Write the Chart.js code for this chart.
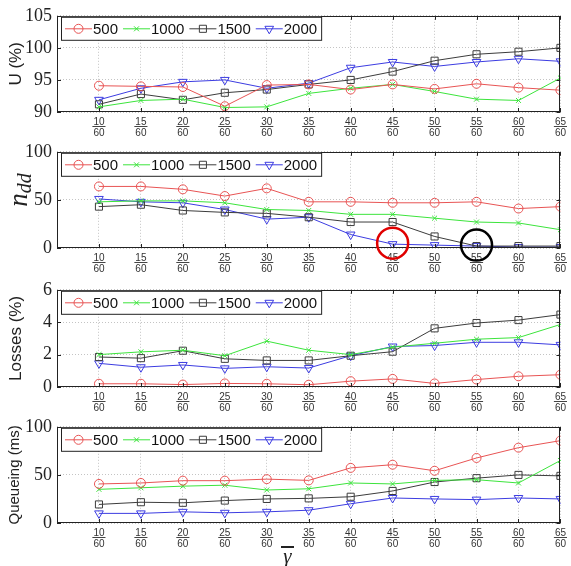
<!DOCTYPE html>
<html>
<head>
<meta charset="utf-8">
<script src="https://cdn.jsdelivr.net/npm/chart.js@4.4.1/dist/chart.umd.min.js"></script>
<style>
    body { margin: 0; background: #fff; }
    #wrap { position: relative; width: 571px; height: 566px; overflow: hidden; }
    #wrap canvas { position: absolute; left: 0; }
    #gamma {
        position: absolute; left: 281px; top: 546px; width: 13px;
        border-top: 2.5px solid #222; color: #222; text-align: center;
        font: italic 21px 'Liberation Serif', serif; line-height: 16px;
    }
</style>
</head>
<body>
<div id="wrap">
    <canvas id="chartU" width="571" height="137" style="top:0px"></canvas>
    <canvas id="chartN" width="571" height="137" style="top:136px"></canvas>
    <canvas id="chartL" width="571" height="138" style="top:274px"></canvas>
    <canvas id="chartQ" width="571" height="137" style="top:411px"></canvas>
    <div id="gamma">γ</div>
</div>

<script>
// x: gamma bar = num / 60
const gammaNum = [10, 15, 20, 25, 30, 35, 40, 45, 50, 55, 60, 65];
const gammaDen = 60;
const seriesNames = ['500', '1000', '1500', '2000'];

// U (%)
const util500  = [94.1, 94.0, 93.9, 90.9, 94.2, 94.3, 93.5, 94.3, 93.6, 94.4, 93.8, 93.4];
const util1000 = [90.8, 91.8, 92.0, 90.7, 90.8, 92.9, 93.7, 94.3, 93.2, 92.0, 91.8, 95.3];
const util1500 = [91.2, 92.8, 91.9, 93.0, 93.5, 94.3, 95.0, 96.3, 98.0, 99.0, 99.4, 100.0];
const util2000 = [91.9, 93.7, 94.7, 95.0, 93.7, 94.5, 96.9, 97.8, 97.1, 97.8, 98.3, 97.9];

// n_dd
const ndd500  = [64, 64, 61, 54, 62, 48, 48, 47, 47, 48, 41, 43];
const ndd1000 = [48, 49, 49, 47, 40, 39, 35, 35, 31, 27, 26, 19];
const ndd1500 = [43, 45, 39, 37, 36, 32, 27, 27, 12, 2, 2, 2];
const ndd2000 = [51, 48, 47, 40, 30, 32, 14, 4, 3, 2, 1, 1];
const nddCircled = [45, 55];   // 2000 points marked on the n_dd panel

// Losses (%)
const loss500  = [0.2, 0.2, 0.15, 0.22, 0.2, 0.14, 0.36, 0.5, 0.22, 0.46, 0.66, 0.76];
const loss1000 = [2.0, 2.17, 2.27, 1.93, 2.83, 2.27, 2.0, 2.46, 2.7, 2.95, 3.05, 3.86];
const loss1500 = [1.85, 1.78, 2.24, 1.74, 1.64, 1.64, 1.93, 2.18, 3.62, 3.95, 4.13, 4.47];
const loss2000 = [1.46, 1.22, 1.36, 1.15, 1.25, 1.17, 1.93, 2.5, 2.56, 2.76, 2.76, 2.6];

// Queueing (ms)
const queue500  = [40.6, 41.6, 44, 44, 45.6, 44.3, 57.3, 60.6, 54.3, 67.6, 78.3, 85.6];
const queue1000 = [35, 36.6, 38.3, 39.3, 34.3, 35.6, 41.6, 40.6, 44.3, 45, 41.6, 65];
const queue1500 = [19.3, 21.6, 21, 23.3, 25, 25.6, 27.3, 33.3, 42.6, 46.6, 50, 49];
const queue2000 = [10, 10, 11.6, 10.6, 11.6, 13.3, 20, 26, 25, 24.3, 26, 25];

const seriesStyle = [
    { color: 'rgb(232,84,84)',  pointStyle: 'circle',   rotation: 0,   radius: 4.5 },
    { color: 'rgb(60,228,60)',  pointStyle: 'crossRot', rotation: 0,   radius: 3.5 },
    { color: 'rgb(60,60,60)',   pointStyle: 'rect',     rotation: 0,   radius: 5 },
    { color: 'rgb(60,60,225)',  pointStyle: 'triangle', rotation: 180, radius: 5 }
];

const SANS = "'Liberation Sans', Arial, sans-serif";
const SERIF = "'Liberation Serif', 'Times New Roman', serif";
const TICK_PAD = 5, TICK_LH = 11;

const drawMarker = (ctx, st, x, y) => {
    ctx.strokeStyle = st.color;
    ctx.fillStyle = 'rgba(0,0,0,0)';
    ctx.lineWidth = 1;
    ctx.setLineDash([]);
    Chart.helpers.drawPoint(ctx, { pointStyle: st.pointStyle, rotation: st.rotation, radius: st.radius, borderWidth: 1 }, x, y);
};

// box, inward ticks and fraction bars under the x labels
const framePlugin = {
    id: 'frame',
    afterDraw(chart) {
        const { ctx, chartArea: a, scales: { x, y } } = chart;
        ctx.save();
        ctx.strokeStyle = '#222';
        ctx.lineWidth = 1;
        ctx.setLineDash([]);
        ctx.beginPath();
        x.ticks.forEach(t => {
            const px = Math.round(x.getPixelForValue(t.value)) + 0.5;
            ctx.moveTo(px, a.top); ctx.lineTo(px, a.top + 4);
            ctx.moveTo(px, a.bottom); ctx.lineTo(px, a.bottom - 4);
        });
        y.ticks.forEach(t => {
            const py = Math.round(y.getPixelForValue(t.value)) + 0.5;
            ctx.moveTo(a.left, py); ctx.lineTo(a.left + 4, py);
            ctx.moveTo(a.right, py); ctx.lineTo(a.right - 4, py);
        });
        ctx.stroke();
        ctx.strokeRect(Math.round(a.left) + 0.5, Math.round(a.top) + 0.5, Math.round(a.width) - 1, Math.round(a.height) - 1);

        // fraction bars
        ctx.strokeStyle = '#444';
        ctx.font = '10px ' + SANS;
        const barY = Math.round(a.bottom + TICK_PAD + TICK_LH - 2) + 0.5;
        ctx.beginPath();
        x.ticks.forEach(t => {
            const px = x.getPixelForValue(t.value);
            const w = ctx.measureText(String(gammaDen)).width + 2;
            ctx.moveTo(px - w / 2, barY); ctx.lineTo(px + w / 2, barY);
        });
        ctx.stroke();
        ctx.restore();
    }
};

// legend inside the axes, top left, with a box
const boxLegendPlugin = {
    id: 'boxLegend',
    afterDraw(chart) {
        const { ctx, chartArea: a } = chart;
        const left = a.left + 4, top = a.top + 1, h = 23;
        ctx.save();
        ctx.font = '15px ' + SANS;
        let width = 4;
        seriesNames.forEach(n => { width += 28 + ctx.measureText(n).width + 5; });
        width = width - 5 + 4;
        ctx.fillStyle = '#fff';
        ctx.fillRect(left, top, width, h);
        ctx.strokeStyle = '#222';
        ctx.lineWidth = 1;
        ctx.strokeRect(left + 0.5, top + 0.5, width, h);

        const midY = top + h / 2 + 0.5;
        let xx = left + 4;
        seriesNames.forEach((n, i) => {
            const st = seriesStyle[i];
            ctx.strokeStyle = st.color;
            ctx.beginPath();
            ctx.moveTo(xx, midY); ctx.lineTo(xx + 27, midY);
            ctx.stroke();
            drawMarker(ctx, st, xx + 13.5, midY);
            ctx.fillStyle = '#111';
            ctx.textAlign = 'left';
            ctx.textBaseline = 'middle';
            ctx.fillText(n, xx + 28, midY + 1);
            xx += 28 + ctx.measureText(n).width + 5;
        });
        ctx.restore();
    }
};

const makePanel = (id, values, yMin, yMax, yStep, yTitle, titleSize, extraPlugins) => {
    const datasets = values.map((arr, i) => {
        const st = seriesStyle[i];
        return {
            label: seriesNames[i],
            data: gammaNum.map((g, k) => ({ x: g, y: arr[k] })),
            borderColor: st.color,
            backgroundColor: 'rgba(0,0,0,0)',
            borderWidth: 1,
            pointStyle: st.pointStyle,
            pointRotation: st.rotation,
            pointRadius: st.radius,
            pointBorderWidth: 1,
            pointBorderColor: st.color,
            pointBackgroundColor: 'rgba(0,0,0,0)',
            tension: 0
        };
    });

    return new Chart(document.getElementById(id), {
        type: 'line',
        data: { datasets },
        options: {
            responsive: false,
            animation: false,
            devicePixelRatio: 1,
            layout: { padding: { top: 12, right: 2, left: 0, bottom: 0 } },
            plugins: { legend: { display: false }, tooltip: { enabled: false } },
            scales: {
                x: {
                    type: 'linear',
                    min: 5,
                    max: 65,
                    afterBuildTicks: s => { s.ticks = s.ticks.filter(t => t.value >= gammaNum[0]); },
                    afterFit: s => { s.height = 25; },
                    grid: { color: '#c4c4c4', lineWidth: 1, drawTicks: false },
                    border: { display: false, dash: [1, 2] },
                    ticks: {
                        stepSize: 5,
                        autoSkip: false,
                        maxRotation: 0,
                        padding: TICK_PAD,
                        color: '#333',
                        font: { family: SANS, size: 10, lineHeight: TICK_LH / 10 },
                        callback: v => [String(v), String(gammaDen)]
                    }
                },
                y: {
                    min: yMin,
                    max: yMax,
                    afterFit: s => { s.width = 57; },
                    grid: { color: '#c4c4c4', lineWidth: 1, drawTicks: false },
                    border: { display: false, dash: [1, 2] },
                    ticks: {
                        stepSize: yStep,
                        padding: 5,
                        color: '#222',
                        font: { family: SERIF, size: 18 }
                    },
                    title: {
                        display: !!yTitle,
                        text: yTitle || '',
                        color: '#222',
                        padding: { top: 6, bottom: 0 },
                        font: { family: SANS, size: titleSize, lineHeight: 1.2 }
                    }
                }
            }
        },
        plugins: [framePlugin, boxLegendPlugin].concat(extraPlugins || [])
    });
};

// n_dd axis label and the two circled points
const nddPlugin = {
    id: 'nddExtras',
    afterDraw(chart) {
        const { ctx, chartArea: a } = chart;
        ctx.save();
        ctx.fillStyle = '#222';
        ctx.translate(27, (a.top + a.bottom) / 2 - 10);
        ctx.rotate(-Math.PI / 2);
        ctx.textBaseline = 'alphabetic';
        ctx.textAlign = 'left';
        ctx.font = 'italic 27px ' + SERIF;
        const wn = ctx.measureText('n').width;
        ctx.font = 'italic 20px ' + SERIF;
        const wd = ctx.measureText('dd').width;
        const start = -(wn + wd) / 2;
        ctx.font = 'italic 27px ' + SERIF;
        ctx.fillText('n', start, 0);
        ctx.font = 'italic 20px ' + SERIF;
        ctx.fillText('dd', start + wn, 4);
        ctx.restore();

        const meta = chart.getDatasetMeta(3);
        const ringColors = ['#e00000', '#000'];
        ctx.save();
        ctx.lineWidth = 2.5;
        nddCircled.forEach((g, i) => {
            const el = meta.data[gammaNum.indexOf(g)];
            ctx.strokeStyle = ringColors[i];
            ctx.beginPath();
            ctx.arc(el.x, el.y - 1, 15.5, 0, Math.PI * 2);
            ctx.stroke();
        });
        ctx.restore();
    }
};

makePanel('chartU', [util500, util1000, util1500, util2000], 90, 105, 5, 'U (%)', 17);
makePanel('chartN', [ndd500, ndd1000, ndd1500, ndd2000], 0, 100, 50, null, 17, [nddPlugin]);
makePanel('chartL', [loss500, loss1000, loss1500, loss2000], 0, 6, 2, 'Losses (%)', 17);
makePanel('chartQ', [queue500, queue1000, queue1500, queue2000], 0, 100, 50, 'Queueing (ms)', 15);
</script>
</body>
</html>
